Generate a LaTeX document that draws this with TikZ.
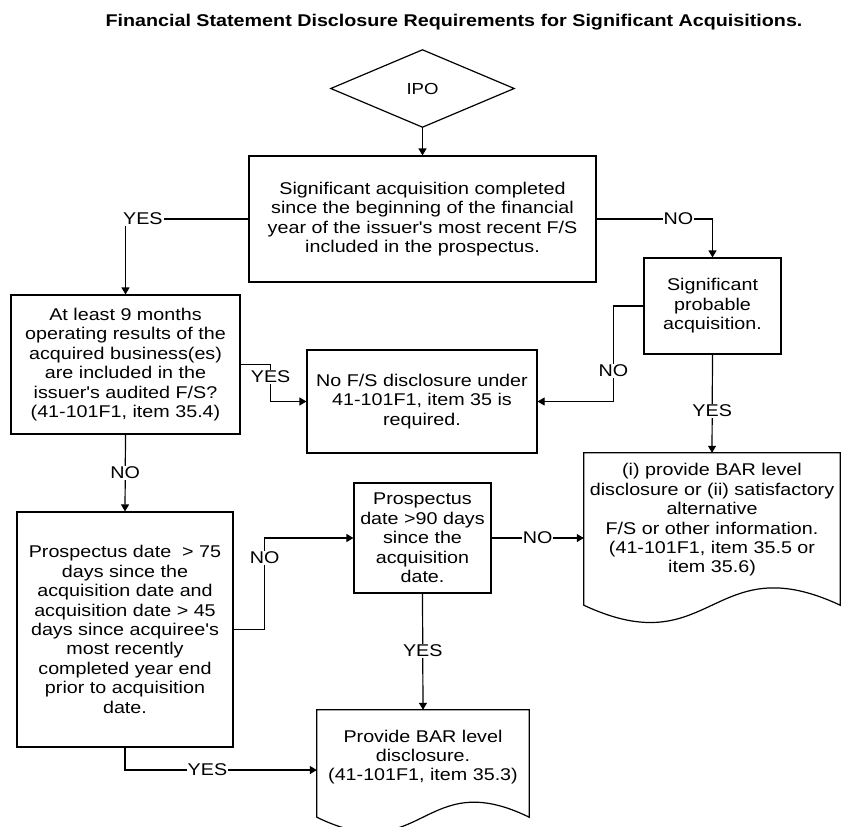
\documentclass[tikz,border=0pt]{standalone}
\usepackage{fontspec}
\setmainfont{Liberation Sans}[FakeStretch=1.16,Ligatures=TeXOff]
\usetikzlibrary{arrows.meta,calc}
\begin{document}
\begin{tikzpicture}[x=1pt,y=-1pt,
  every node/.style={font=\fontsize{17}{19.4}\selectfont},
  boxline/.style={draw=black,line width=1.2pt},
  box/.style={boxline,rectangle,inner sep=0pt,align=center},
  ghost/.style={rectangle,inner sep=0pt,align=center},
  conn/.style={line width=1.2pt,-{Triangle[length=7pt,width=8pt]}},
  lab/.style={fill=white,inner sep=1pt}]
\useasboundingbox (0,0) rectangle (841,827);
\fill[white] (0,0) rectangle (841,827);

\node[anchor=base,font=\fontsize{17}{20}\selectfont\bfseries] (title) at (454,27)
  {Financial Statement Disclosure Requirements for Significant Acquisitions.};

\node[ghost,minimum width=183,minimum height=77,font=\fontsize{16}{19}\selectfont] (ipo) at (422.5,88.5) {IPO};
\draw[boxline] (ipo.west) -- (ipo.north) -- (ipo.east) -- (ipo.south) -- cycle;

\node[box,minimum width=347,minimum height=126] (q1) at (422.5,219)
  {Significant acquisition completed\\since the beginning of the financial\\year of the issuer's most recent F/S\\included in the prospectus.};
\node[box,minimum width=229,minimum height=139] (q2) at (125.5,364.5)
  {At least 9 months\\operating results of the\\acquired business(es)\\are included in the\\issuer's audited F/S?\\(41-101F1, item 35.4)};
\node[box,minimum width=230,minimum height=103] (nofs) at (422,401.5)
  {No F/S disclosure under\\41-101F1, item 35 is\\required.};
\node[box,minimum width=137,minimum height=96] (prob) at (712.5,306)
  {Significant\\probable\\acquisition.};
\node[ghost,minimum width=256,minimum height=134] (docA) at (712,520)
  {(i) provide BAR level\\disclosure or (ii) satisfactory\\alternative\\F/S or other information.\\(41-101F1, item 35.5 or\\item 35.6)};
\draw[boxline] (docA.north west) -- (docA.north east) -- ($(docA.south east)+(0,18)$)
  .. controls ($(docA.south)+(0,-42)$) and ($(docA.south)+(0,78)$) .. ($(docA.south west)+(0,18)$) -- cycle;
\node[box,minimum width=137,minimum height=110] (p90) at (422.5,538)
  {Prospectus\\date >90 days\\since the\\acquisition\\date.};
\node[box,minimum width=216,minimum height=235] (p75) at (125,629.5)
  {Prospectus date\ \ > 75\\days since the\\acquisition date and\\acquisition date > 45\\days since acquiree's\\most recently\\completed year end\\prior to acquisition\\date.};
\node[ghost,minimum width=212,minimum height=94] (docB) at (423,757)
  {Provide BAR level\\disclosure.\\(41-101F1, item 35.3)};
\draw[boxline] (docB.north west) -- (docB.north east) -- ($(docB.south east)+(0,13)$)
  .. controls ($(docB.south)+(0,-39)$) and ($(docB.south)+(0,65)$) .. ($(docB.south west)+(0,13)$) -- cycle;

\draw[conn] (ipo.south) -- (q1.north);
\draw[conn] (q1.west) -| node[lab,pos=0.5,anchor=west,xshift=-4pt] {YES} (q2.north);
\draw[conn] (q1.east) -| node[lab,pos=0.353] {NO} (prob.north);
\draw[conn] (q2.east) -- ++(30,0) |- node[lab,pos=0.17] {YES} (nofs.west);
\draw[conn] (prob.west) -- ++(-30,0) |- node[lab,pos=0.34] {NO} (nofs.east);
\draw[conn] (prob.south) -- node[lab,pos=0.57] {YES} (docA.north);
\draw[conn] (q2.south) -- node[lab] {NO} (p75.north);
\draw[conn] (p75.east) -- ++(31,0) |- node[lab,pos=0.39] {NO} (p90.west);
\draw[conn] (p90.east) -- node[lab] {NO} (p90.east -| docA.west);
\draw[conn] (p90.south) -- node[lab,pos=0.49] {YES} (docB.north);
\draw[conn] (p75.south) |- node[lab,pos=0.715] {YES} ([yshift=-13pt]docB.west);
\end{tikzpicture}
\end{document}
